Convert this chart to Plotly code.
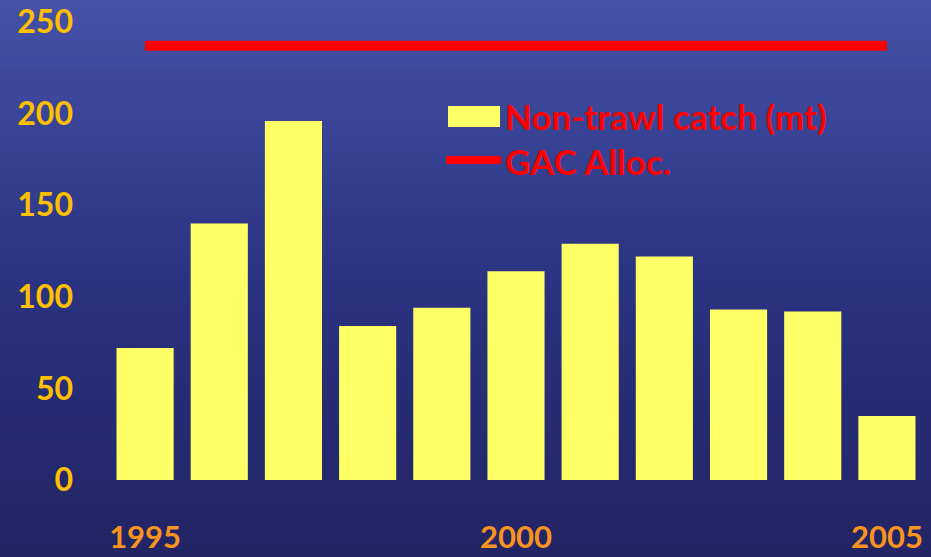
import plotly.graph_objects as go

years = [1995, 1996, 1997, 1998, 1999, 2000, 2001, 2002, 2003, 2004, 2005]
catch_mt = [72, 140, 196, 84, 94, 114, 129, 122, 93, 92, 35]
gac_years = [1995, 2005]
gac_alloc = [237, 237]
x_ticks = [1995, 2000, 2005]
y_ticks = [0, 50, 100, 150, 200, 250]

W, H = 931, 557
L, R, T, B = 108, 7, 22, 77
PW, PH = W - L - R, H - T - B

def px_x(p):
    return (p - L) / PW

def px_y(p):
    return (H - B - p) / PH

FONT = "Lato, 'Open Sans', sans-serif"

fig = go.Figure()
fig.add_trace(go.Bar(x=years, y=catch_mt, width=0.77, marker=dict(color="#FFFF66", line=dict(width=0)),
                     name="Non-trawl catch (mt)", showlegend=False))
fig.add_trace(go.Scatter(x=gac_years, y=gac_alloc, mode="lines", line=dict(color="#FF0000", width=10),
                         name="GAC Alloc.", showlegend=False))

# background gradient bands (decorative)
stops = [(0, (70, 82, 168)), (280, (43, 52, 130)), (557, (34, 36, 100))]

def bg_color(y):
    for (y0, c0), (y1, c1) in zip(stops[:-1], stops[1:]):
        if y0 <= y <= y1:
            f = (y - y0) / (y1 - y0)
            return tuple(int(c0[k] + (c1[k] - c0[k]) * f) for k in range(3))
    return stops[-1][1]

shapes = []
band = 10
for y in range(0, H, band):
    c = bg_color(y + band / 2)
    shapes.append(dict(type="rect", xref="paper", yref="paper", layer="below",
                       x0=-1, x1=2, y0=px_y(y + band + 0.5), y1=px_y(y - 0.5),
                       fillcolor="rgb(%d,%d,%d)" % c, line=dict(width=0)))

# manual legend
shapes.append(dict(type="rect", xref="paper", yref="paper", x0=px_x(448), x1=px_x(500),
                   y0=px_y(127), y1=px_y(106), fillcolor="#FFFF66", line=dict(width=0)))
shapes.append(dict(type="line", xref="paper", yref="paper", x0=px_x(446), x1=px_x(501),
                   y0=px_y(160), y1=px_y(160), line=dict(color="#FF0000", width=8)))

annotations = [
    dict(text="<b>Non-trawl catch (mt)</b>", xref="paper", yref="paper", x=px_x(503), y=px_y(116),
         xanchor="left", yanchor="middle", showarrow=False, font=dict(family=FONT, size=35, color="#FF0000")),
    dict(text="<b>GAC Alloc.</b>", xref="paper", yref="paper", x=px_x(503), y=px_y(161),
         xanchor="left", yanchor="middle", showarrow=False, font=dict(family=FONT, size=35, color="#FF0000")),
]

fig.update_layout(
    width=W, height=H,
    margin=dict(l=L, r=R, t=T, b=B, autoexpand=False),
    paper_bgcolor="#2B3482", plot_bgcolor="rgba(0,0,0,0)",
    shapes=shapes, annotations=annotations,
    bargap=0.23,
    xaxis=dict(range=[1994.5, 2005.5], tickvals=x_ticks, ticktext=[str(v) for v in x_ticks],
               showgrid=False, zeroline=False, showline=False, ticks="", automargin=False,
               ticklabelstandoff=36,
               tickfont=dict(family=FONT, size=31, color="#F7931E", weight="bold")),
    yaxis=dict(range=[0, 250], tickvals=y_ticks, showgrid=False, zeroline=False, showline=False, ticks="",
               automargin=False, ticklabelstandoff=34,
               tickfont=dict(family=FONT, size=32, color="#FFC000", weight="bold")),
    showlegend=False,
)

fig.write_html("out.html", config={"displayModeBar": False},
               post_script="document.body.style.margin='0';document.body.style.background='#222466';"
                           "document.body.style.overflow='hidden';")
